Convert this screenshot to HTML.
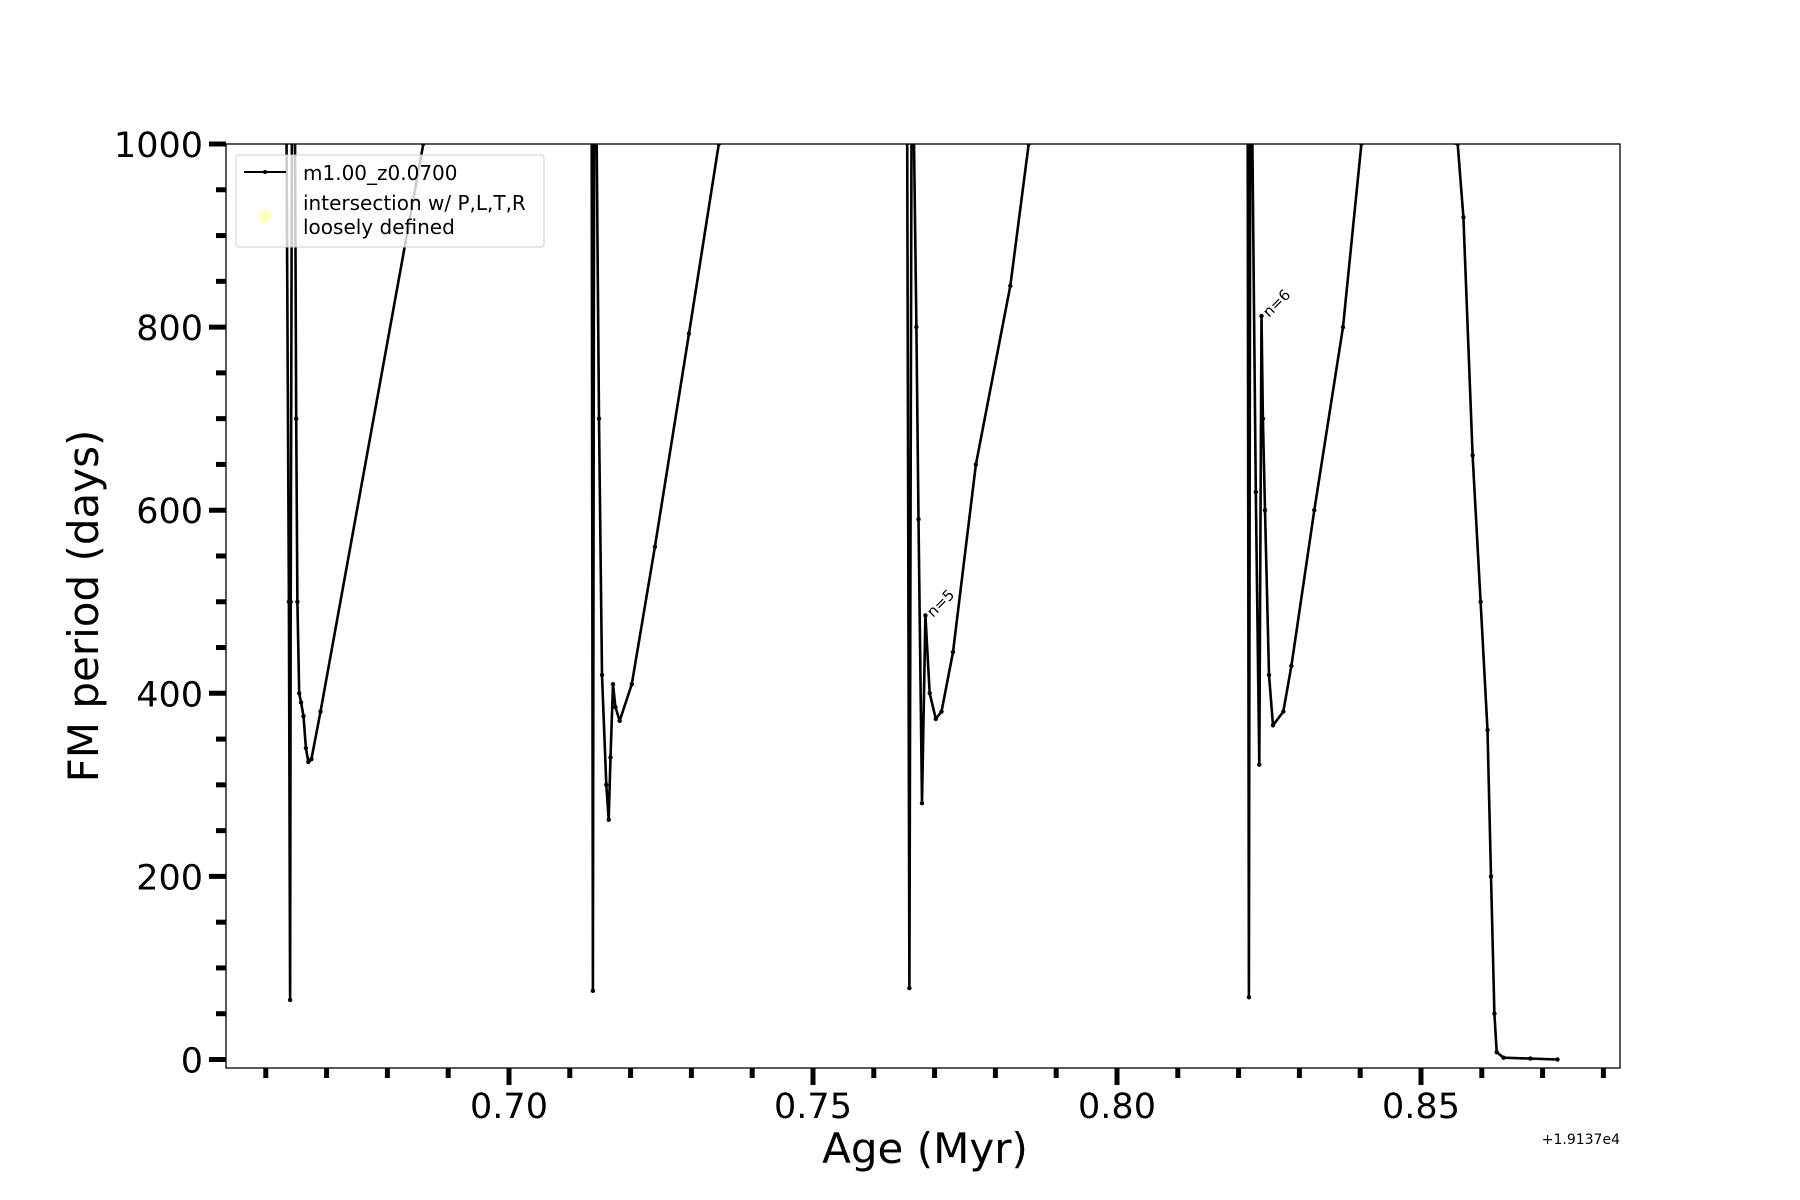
<!DOCTYPE html>
<html><head><meta charset="utf-8"><style>
body{margin:0;background:#fff}
svg{display:block;font-family:"DejaVu Sans","Liberation Sans",sans-serif}
</style></head><body>
<svg id="chart" width="1800" height="1200" viewBox="0 0 1800 1200" xmlns="http://www.w3.org/2000/svg">
<defs><clipPath id="clip"><rect x="226" y="144" width="1394" height="924"/></clipPath></defs>
<rect x="226" y="144" width="1394" height="924" fill="#fff"/>
<g id="series" clip-path="url(#clip)"></g>
<rect x="226" y="144" width="1394" height="924" fill="none" stroke="#000" stroke-width="1.3"/>
<g id="xaxis"></g>
<g id="yaxis"></g>
<text x="925" y="1163" font-size="42" text-anchor="middle">Age (Myr)</text>
<text transform="translate(98,606) rotate(-90)" font-size="42" text-anchor="middle">FM period (days)</text>
<text x="1620" y="1144" font-size="14" text-anchor="end">+1.9137e4</text>
<text transform="translate(933,618) rotate(-45)" font-size="15">n=5</text>
<text transform="translate(1269,318) rotate(-45)" font-size="15">n=6</text>
<g>
<rect x="236" y="155" width="308" height="92" rx="3" fill="#fff" fill-opacity="0.8" stroke="#ccc" stroke-width="1"/>
<line x1="244" y1="172" x2="286" y2="172" stroke="#000" stroke-width="2"/>
<circle cx="265" cy="172" r="2" fill="#000"/>
<text x="303" y="180" font-size="20">m1.00_z0.0700</text>
<circle cx="265" cy="216" r="7" fill="#ffff99" fill-opacity="0.6"/>
<text x="303" y="210" font-size="20">intersection w/ P,L,T,R</text>
<text x="303" y="234" font-size="20">loosely defined</text>
</g>
</svg>
<script>
const ages = [0.6634,0.6638,0.6640,0.6641,0.6643,0.6648,0.6650,0.6652,0.6655,0.6658,0.6662,0.6666,0.6670,0.6675,0.6690,0.6859,0.6865,
0.7136,0.7138,0.7140,0.7144,0.7148,0.7153,0.7160,0.7164,0.7167,0.7171,0.7175,0.7182,0.7202,0.7240,0.7296,0.7345,0.7350,
0.7655,0.76585,0.7662,0.7666,0.7670,0.76736,0.76792,0.76849,0.7692,0.77019,0.77113,0.77302,0.77679,0.78245,0.78547,0.7860,
0.8215,0.8217,0.8219,0.82226,0.82283,0.8234,0.82377,0.8240,0.82434,0.8250,0.82566,0.82736,0.82868,0.83245,0.83717,0.84019,0.8405,
0.85604,0.85698,0.85849,0.85981,0.86094,0.86151,0.86208,0.86245,0.86358,0.8680,0.87245];
const periods = [1010,500,65,500,1010,1010,700,500,400,390,375,340,325,328,380,1000,1020,
1010,75,1010,1010,700,420,300,262,330,410,385,370,410,560,793,1000,1020,
1010,78,1010,1010,800,590,280,485,400,372,380,445,650,845,1000,1020,
1010,68,1010,1010,620,322,812,700,600,420,365,380,430,600,800,1000,1020,
1000,920,660,500,360,200,50,8,2,1,0];
const xTicks = [0.70,0.75,0.80,0.85];
const xTickLabels = ["0.70","0.75","0.80","0.85"];
const xMinor = [0.66,0.67,0.68,0.69,0.71,0.72,0.73,0.74,0.76,0.77,0.78,0.79,0.81,0.82,0.83,0.84,0.86,0.87,0.88];
const yTicks = [0,200,400,600,800,1000];
const yTickLabels = ["0","200","400","600","800","1000"];
const yMinor = [50,100,150,250,300,350,450,500,550,650,700,750,850,900,950];

const NS='http://www.w3.org/2000/svg';
function X(v){return 509+(v-0.70)*6080;}
function Y(p){return 1059.5-p*0.9155;}
function mk(t,a){const e=document.createElementNS(NS,t);for(const k in a)e.setAttribute(k,a[k]);return e;}

const sg=document.getElementById('series');
const pl=mk('polyline',{points:ages.map((a,i)=>X(a).toFixed(1)+','+Y(periods[i]).toFixed(1)).join(' '),fill:'none',stroke:'#000','stroke-width':2.6,'stroke-linejoin':'round'});


sg.appendChild(pl);
ages.forEach((a,i)=>{const c=mk('circle',{cx:X(a),cy:Y(periods[i]),r:2.2,fill:'#000'});


sg.appendChild(c);});

const xg=document.getElementById('xaxis');
xTicks.forEach((v,i)=>{const l=mk('line',{x1:X(v),y1:1068,x2:X(v),y2:1085,stroke:'#000','stroke-width':5});


xg.appendChild(l);
const t=mk('text',{x:X(v),y:1118,'font-size':35,'text-anchor':'middle'});t.textContent=xTickLabels[i];


xg.appendChild(t);});
xMinor.forEach(v=>{const l=mk('line',{x1:X(v),y1:1068,x2:X(v),y2:1078,stroke:'#000','stroke-width':5});


xg.appendChild(l);});

const yg=document.getElementById('yaxis');
yTicks.forEach((v,i)=>{const l=mk('line',{x1:209,y1:Y(v),x2:226,y2:Y(v),stroke:'#000','stroke-width':5});


yg.appendChild(l);
const t=mk('text',{x:203,y:Y(v)+13,'font-size':35,'text-anchor':'end'});t.textContent=yTickLabels[i];


yg.appendChild(t);});
yMinor.forEach(v=>{const l=mk('line',{x1:216,y1:Y(v),x2:226,y2:Y(v),stroke:'#000','stroke-width':5});


yg.appendChild(l);});
</script>
</body></html>
